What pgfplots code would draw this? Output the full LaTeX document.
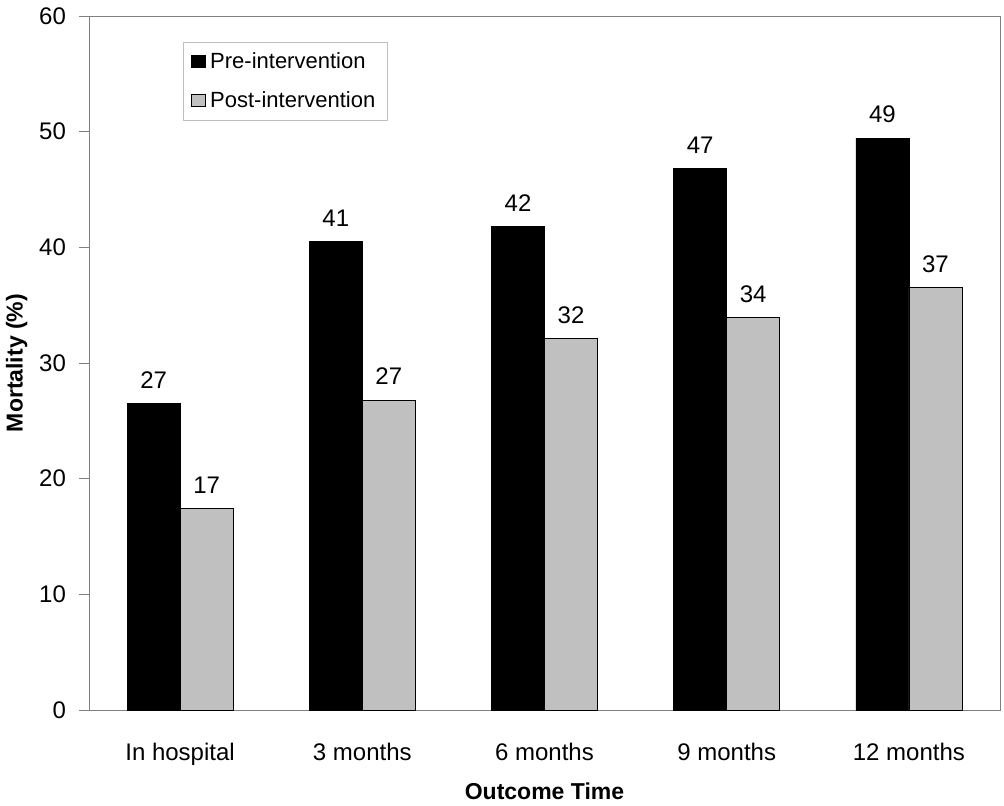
\documentclass[border=0pt]{standalone}
\usepackage{pgfplots}
\pgfplotsset{compat=1.18}
\usepackage{fontspec}
\setmainfont{Liberation Sans}
\definecolor{postgray}{HTML}{C0C0C0}
\definecolor{axgray}{HTML}{808080}
\begin{document}
\begin{tikzpicture}
\begin{axis}[
  scale only axis,
  width=455.5pt, height=347pt,
  ybar=0pt, bar width=26.5pt,
  xmin=-0.5, xmax=4.5,
  ymin=0, ymax=60,
  ytick={0,10,...,60},
  xtick={0,1,2,3,4},
  xticklabels={In hospital,3 months,6 months,9 months,12 months},
  extra x ticks={-0.5,0.5,1.5,2.5,3.5,4.5},
  extra x tick labels={},
  extra x tick style={major tick length=5pt, tick style={axgray}},
  x tick style={draw=none},
  xtick pos=bottom, ytick pos=left,
  tick align=outside,
  major tick length=5pt,
  y tick style={axgray},
  axis line style={axgray},
  /pgf/number format/assume math mode=true,
  tick label style={font=\fontsize{12}{14}\selectfont},
  xticklabel style={yshift=-8pt},
  yticklabel style={xshift=-3pt},
  xlabel={\textbf{Outcome Time}},
  ylabel={\textbf{Mortality (\%)}},
  label style={font=\fontsize{11.5}{13}\selectfont},
  xlabel style={yshift=8pt},
  ylabel style={yshift=-1pt},
  point meta=explicit symbolic,
  nodes near coords,
  nodes near coords style={font=\fontsize{12}{14}\selectfont, anchor=south, yshift=4pt},
  legend style={at={(0.1032,0.9625)}, anchor=north west, draw=gray!50,
    font=\fontsize{11}{13}\selectfont, row sep=6pt, inner xsep=4pt, inner ysep=3pt},
  legend cell align=left,
  legend image code/.code={\draw[#1,draw=black] (0pt,-3pt) rectangle (7pt,3pt);},
]
\addplot[fill=black, draw=black] coordinates {
  (0,26.5) [27] (1,40.5) [41] (2,41.8) [42] (3,46.8) [47] (4,49.45) [49]};
\addplot[fill=postgray, draw=black] coordinates {
  (0,17.4) [17] (1,26.8) [27] (2,32.1) [32] (3,33.9) [34] (4,36.5) [37]};
\legend{Pre-intervention, Post-intervention}
\end{axis}
\pgfresetboundingbox
\path ([shift={(-44.5pt,-48pt)}]current axis.south west) rectangle ([shift={(2pt,8pt)}]current axis.north east);
\end{tikzpicture}
\end{document}
